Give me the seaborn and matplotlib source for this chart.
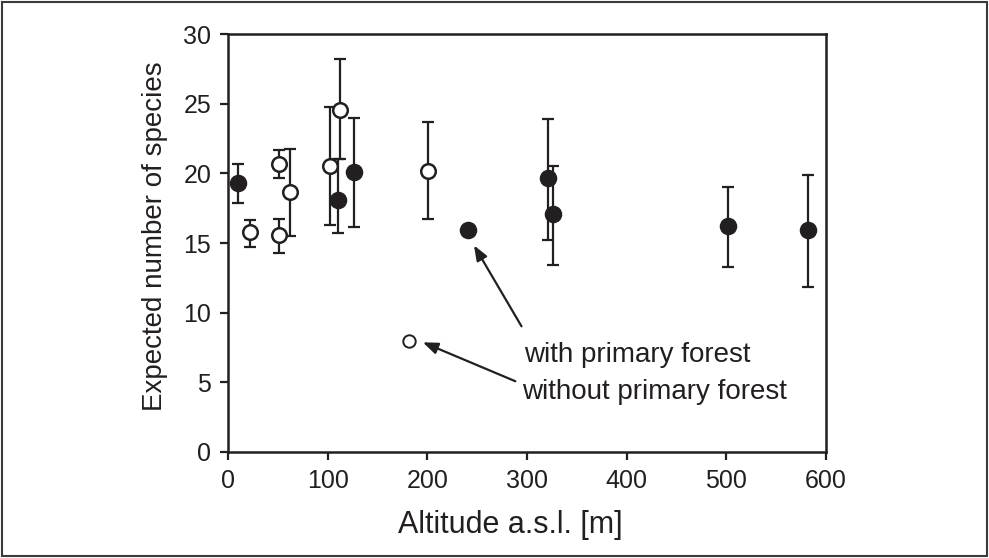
import matplotlib
matplotlib.use("Agg")
import matplotlib.pyplot as plt
import matplotlib.patches as mpatches
import pandas as pd
import seaborn as sns

# sites with primary forest (filled)
with_alt = [10, 110, 126, 241, 321, 326, 502, 582]
with_mean = [19.3, 18.1, 20.1, 15.95, 19.65, 17.1, 16.25, 15.95]
with_low = [17.9, 15.75, 16.15, None, 15.2, 13.45, 13.3, 11.85]
with_high = [20.7, 21.0, 24.0, None, 23.9, 20.55, 19.05, 19.9]

# sites without primary forest (open)
without_alt = [22, 51, 51, 62, 102, 112, 201, 182]
without_mean = [15.8, 20.7, 15.6, 18.65, 20.5, 24.55, 20.2, 8.0]
without_low = [14.7, 19.65, 14.25, 15.5, 16.3, 21.0, 16.75, None]
without_high = [16.65, 21.7, 16.75, 21.75, 24.75, 28.2, 23.7, None]

df = pd.concat([
    pd.DataFrame({'alt': with_alt, 'mean': with_mean, 'low': with_low,
                  'high': with_high, 'group': 'with primary forest'}),
    pd.DataFrame({'alt': without_alt, 'mean': without_mean, 'low': without_low,
                  'high': without_high, 'group': 'without primary forest'}),
], ignore_index=True)

sns.set_style('white')
plt.rcParams['font.family'] = ['Liberation Sans', 'DejaVu Sans']

fig = plt.figure(figsize=(9.89, 5.58), dpi=100)
ax = fig.add_axes([0.2305, 0.19, 0.6045, 0.749])

# error bars first so markers sit on top
eb = df.dropna(subset=['low', 'high'])
ax.errorbar(eb['alt'], eb['mean'],
            yerr=[eb['mean'] - eb['low'], eb['high'] - eb['mean']],
            fmt='none', ecolor='#231f20', elinewidth=1.6, capsize=4.3, capthick=1.6, zorder=2)

filled = df[df['group'] == 'with primary forest']
opened = df[(df['group'] == 'without primary forest') & df['low'].notna()]
lone = df[(df['group'] == 'without primary forest') & df['low'].isna()]

sns.scatterplot(data=filled, x='alt', y='mean', ax=ax, s=135, color='#231f20',
                edgecolor='#231f20', linewidth=1.0, zorder=3, legend=False)
sns.scatterplot(data=opened, x='alt', y='mean', ax=ax, s=110, color='white',
                edgecolor='#231f20', linewidth=1.8, zorder=3, legend=False)
sns.scatterplot(data=lone, x='alt', y='mean', ax=ax, s=80, color='white',
                edgecolor='#231f20', linewidth=1.4, zorder=3, legend=False)

ax.set_xlim(0, 600)
ax.set_ylim(0, 30)
ax.set_xticks(range(0, 601, 100))
ax.set_yticks(range(0, 31, 5))
ax.tick_params(axis='both', direction='out', length=6, width=1.6, color='#231f20',
               labelsize=18, labelcolor='#231f20', pad=6, left=True, bottom=True)
for sp in ax.spines.values():
    sp.set_linewidth(1.8)
    sp.set_color('#231f20')

ax.set_xlabel('Altitude a.s.l. [m]', fontsize=22, color='#231f20')
ax.set_ylabel('Expected number of species', fontsize=20, color='#231f20')
ax.xaxis.set_label_coords(0.4716, -0.138)
ax.yaxis.set_label_coords(-0.101, 0.517)

# labels with arrows pointing at example markers
ax.annotate('', xy=(245.5, 15.0), xytext=(296, 8.85),
            arrowprops=dict(arrowstyle='-|>,head_length=0.9,head_width=0.35',
                            color='#231f20', lw=1.6))
ax.annotate('', xy=(193, 7.95), xytext=(291, 5.0),
            arrowprops=dict(arrowstyle='-|>,head_length=0.9,head_width=0.35',
                            color='#231f20', lw=1.6))
ax.text(297, 6.95, 'with primary forest', fontsize=20, color='#231f20', va='center')
ax.text(295, 4.3, 'without primary forest', fontsize=20, color='#231f20', va='center')

# outer frame around the whole figure
fig.patches.append(mpatches.Rectangle((0.002, 0.003), 0.996, 0.994, transform=fig.transFigure,
                                      fill=False, edgecolor='#3a3a3a', linewidth=1.5))

fig.savefig('out.png', dpi=100)
